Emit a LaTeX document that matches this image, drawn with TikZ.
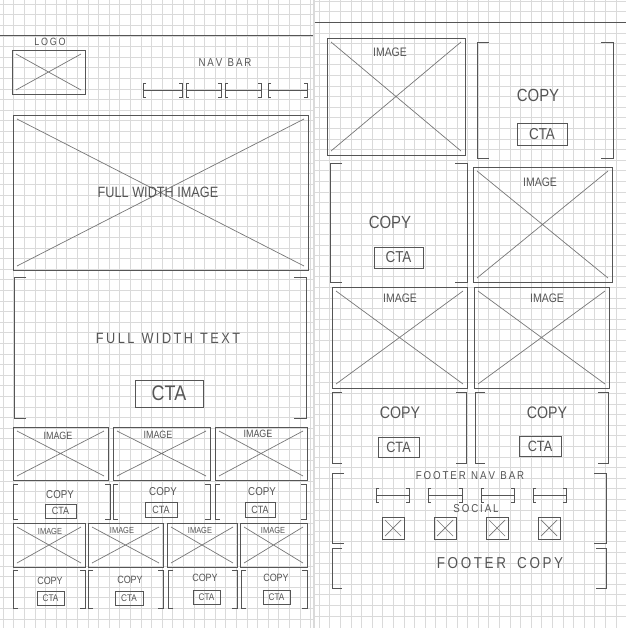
\documentclass[tikz,border=0pt]{standalone}
\usepackage{fontspec}
\setmainfont{Liberation Sans}
\newfontfamily\hand[FakeStretch=0.85]{Liberation Sans}
\definecolor{pencil}{HTML}{555555}
\definecolor{gridc}{HTML}{DADADA}
\newcommand\imgbox[4]{%
  \draw[box] (#1,#2) rectangle (#3,#4);
  \draw[xln] (#1+4,#2+4) -- (#3-4,#4-4) (#1+4,#4-4) -- (#3-4,#2+4);}
\newcommand\brbox[5][10]{%
  \draw[box] (#2+#1,#3) -- (#2,#3) -- (#2,#5) -- (#2+#1,#5);
  \draw[box] (#4-#1,#3) -- (#4,#3) -- (#4,#5) -- (#4-#1,#5);}
\newcommand\navseg[3]{%
  \draw[box] (#1+3,#3-7) -- (#1,#3-7) -- (#1,#3+7) -- (#1+3,#3+7);
  \draw[box] (#2-3,#3-7) -- (#2,#3-7) -- (#2,#3+7) -- (#2-3,#3+7);
  \draw[box] (#1,#3) -- (#2,#3);}
\newcommand\ctabox[5]{%
  \draw[box] (#1,#2) rectangle (#3,#4);
  \node[lbl=#5] at ($(#1,#2)!0.5!(#3,#4)$) {CTA};}
\usetikzlibrary{calc}
\begin{document}
\begin{tikzpicture}[x=0.02cm,y=-0.02cm,
  box/.style={draw=pencil,line width=0.55pt},
  xln/.style={draw=pencil!80,line width=0.4pt},
  gridln/.style={draw=gridc,line width=0.3pt},
  lbl/.style={text=pencil,font=\hand\fontsize{#1}{#1}\selectfont,inner sep=0pt}]
\useasboundingbox (0,0) rectangle (626,628);
\fill[white] (0,0) rectangle (626,628);
% grid paper
\foreach \i in {0,...,29} {\draw[gridln] (3+\i*10.6,0) -- (3+\i*10.6,628);}
\foreach \i in {0,...,58} {\draw[gridln] (0,4+\i*10.6) -- (313,4+\i*10.6);}
\foreach \i in {0,...,28} {\draw[gridln] (319+\i*10.6,0) -- (319+\i*10.6,628);}
\foreach \i in {0,...,58} {\draw[gridln] (315,1+\i*10.6) -- (626,1+\i*10.6);}
\draw[draw=gridc,line width=0.6pt] (314,0) -- (314,628);
\draw[box] (0,35) -- (313,35);
\draw[box] (315,22) -- (626,22);

% ===== left page =====
\imgbox{12}{50}{85}{94}
\node[lbl=6] (logo) at (50,42) {L\,O\,G\,O};
\node[lbl=6.5] (navbar) at (225,63) {N\,A\,V\ \ B\,A\,R};
\navseg{143}{182}{90}
\navseg{186}{221}{90}
\navseg{225}{261}{90}
\navseg{268}{307}{90}

\imgbox{13}{115}{308}{270}
\node[lbl=8.5] (fwimg) at (158,192) {FULL WIDTH IMAGE};

\brbox[12]{14}{277}{306}{418}
\node[lbl=8.5] (fwtext) at (168,338) {F\,U\,L\,L\ \ W\,I\,D\,T\,H\ \ T\,E\,X\,T};
\ctabox{135}{380}{203}{407}{12}

% three images
\imgbox{13}{427}{108}{480}
\imgbox{113}{427}{210}{480}
\imgbox{215}{427}{307}{480}
\node[lbl=6] (i31) at (58,436) {IMAGE};
\node[lbl=6] (i32) at (158,435) {IMAGE};
\node[lbl=6] (i33) at (258,434) {IMAGE};
% three copy
\brbox[5]{13}{484}{110}{519}
\brbox[5]{113}{484}{210}{519}
\brbox[5]{215}{484}{306}{519}
\node[lbl=6.5] (c31) at (60,495) {COPY};
\node[lbl=6.5] (c32) at (163,492) {COPY};
\node[lbl=6.5] (c33) at (262,492) {COPY};
\ctabox{45}{504}{76}{518}{6}
\ctabox{145}{502}{177}{517}{6}
\ctabox{245}{502}{275}{517}{6}
% four images
\imgbox{13}{523}{85}{567}
\imgbox{88}{523}{163}{567}
\imgbox{167}{523}{237}{567}
\imgbox{240}{523}{307}{567}
\node[lbl=5] (i41) at (50,531) {IMAGE};
\node[lbl=5] (i42) at (122,530) {IMAGE};
\node[lbl=5] (i43) at (200,530) {IMAGE};
\node[lbl=5] (i44) at (273,530) {IMAGE};
% four copy
\brbox[5]{13}{570}{85}{608}
\brbox[5]{88}{570}{163}{608}
\brbox[5]{168}{570}{237}{608}
\brbox[5]{241}{570}{307}{608}
\node[lbl=6] (c41) at (50,581) {COPY};
\node[lbl=6] (c42) at (130,580) {COPY};
\node[lbl=6] (c43) at (205,578) {COPY};
\node[lbl=6] (c44) at (276,578) {COPY};
\ctabox{37}{591}{64}{605}{5.5}
\ctabox{115}{591}{143}{605}{5.5}
\ctabox{193}{590}{220}{604}{5.5}
\ctabox{263}{590}{290}{604}{5.5}

% ===== right page =====
\imgbox{327}{38}{465}{155}
\node[lbl=7] (ri1) at (390,52) {IMAGE};
\brbox[12]{477}{42}{613}{158}
\node[lbl=10] (rc1) at (538,95) {COPY};
\ctabox{517}{123}{567}{145}{9}

\brbox[12]{330}{163}{467}{282}
\node[lbl=10] (rc2) at (390,222) {COPY};
\ctabox{374}{247}{423}{268}{9}
\imgbox{473}{167}{612}{282}
\node[lbl=7] (ri2) at (540,182) {IMAGE};

\imgbox{332}{287}{467}{388}
\node[lbl=7] (ri3) at (400,298) {IMAGE};
\imgbox{474}{287}{609}{388}
\node[lbl=7] (ri4) at (547,298) {IMAGE};

\brbox[10]{332}{392}{466}{463}
\node[lbl=9.5] (rc3) at (400,413) {COPY};
\ctabox{378}{437}{419}{457}{8.5}
\brbox[10]{475}{392}{608}{463}
\node[lbl=9.5] (rc4) at (547,413) {COPY};
\ctabox{519}{436}{561}{456}{8.5}

% footer
\brbox[12]{332}{473}{606}{543}
\node[lbl=6.5] (fnav) at (470,476) {F\,O\,O\,T\,E\,R\ \ N\,A\,V\ \ B\,A\,R};
\navseg{376}{409}{495}
\navseg{428}{462}{495}
\navseg{481}{514}{495}
\navseg{533}{566}{495}
\node[lbl=6.5] (social) at (476,509) {S\,O\,C\,I\,A\,L};
\foreach \sx in {382,434,486,538} {
  \draw[box] (\sx,517) rectangle (\sx+22,539);
  \draw[xln] (\sx+3,520) -- (\sx+19,536) (\sx+3,536) -- (\sx+19,520);}
\brbox[10]{332}{548}{606}{588}
\node[lbl=9] (fcopy) at (500,563) {F\,O\,O\,T\,E\,R\ \ \ C\,O\,P\,Y};
\end{tikzpicture}
\end{document}
